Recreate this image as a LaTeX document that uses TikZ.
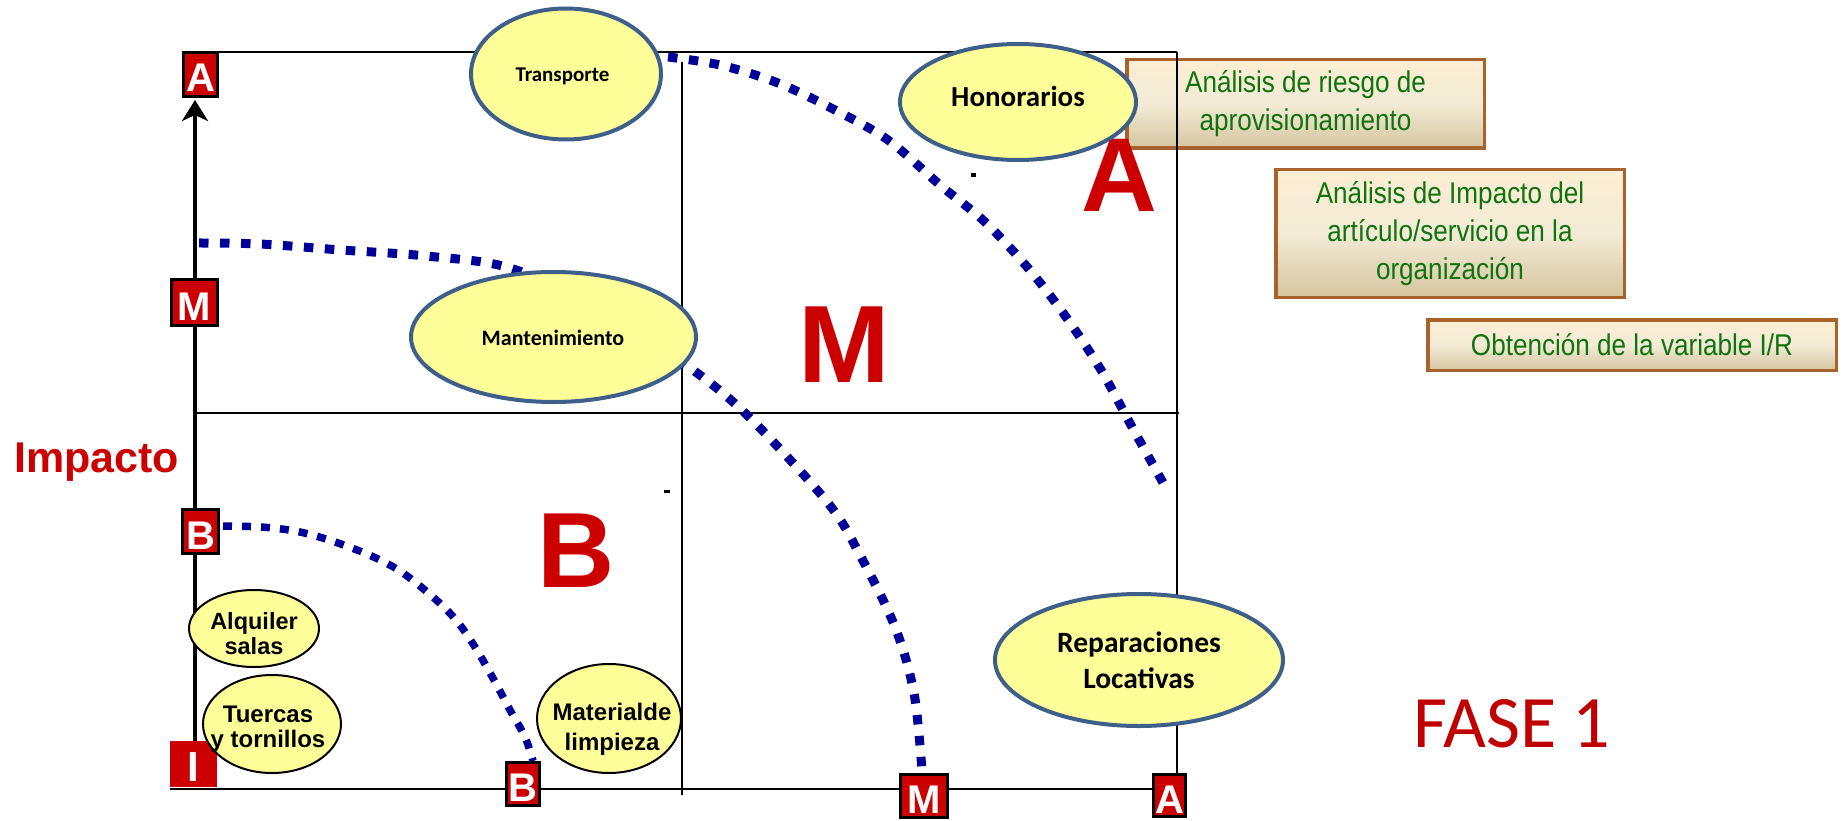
\documentclass[tikz,border=0pt]{standalone}
\usepackage{fontspec}
\usetikzlibrary{shapes.geometric,arrows.meta}
\newfontfamily\arialf{Liberation Sans}
\newfontfamily\calibf{Carlito}
\newfontfamily\narrowf{Liberation Sans}[FakeStretch=0.87]
\definecolor{redbox}{RGB}{204,0,0}
\definecolor{bigred}{RGB}{204,0,0}
\definecolor{fasered}{RGB}{192,0,0}
\definecolor{ellfill}{RGB}{255,255,153}
\definecolor{ellline}{RGB}{62,95,138}
\definecolor{navy}{RGB}{0,0,153}
\definecolor{boxline}{RGB}{168,98,45}
\definecolor{boxtop}{RGB}{252,238,210}
\definecolor{boxmid}{RGB}{243,235,214}
\definecolor{boxbot}{RGB}{213,197,160}
\definecolor{boxtext}{RGB}{15,115,15}
\begin{document}
\begin{tikzpicture}[x=1pt,y=-1pt,
  frameline/.style={line width=2pt,black},
  axisline/.style={line width=3.5pt,black},
  dotcurve/.style={line width=9pt,navy,dash pattern=on 9.5pt off 11.5pt},
  dotcurvesmall/.style={line width=7.5pt,navy,dash pattern=on 9pt off 10pt},
  bigell/.style={ellipse,draw=ellline,line width=4pt,fill=ellfill,inner sep=0pt},
  smallell/.style={ellipse,draw=black,line width=2pt,fill=ellfill,inner sep=0pt},
  calibtext/.style={font=\calibf\bfseries\fontsize{#1}{#1}\selectfont,inner sep=0pt},
  arialtext/.style={font=\arialf\bfseries\fontsize{#1}{25}\selectfont,inner sep=0pt,align=center},
  infobox/.style={draw=boxline,line width=3.5pt,top color=boxtop,bottom color=boxbot,middle color=boxmid,
    align=center,text=boxtext,font=\narrowf\fontsize{30}{38}\selectfont,inner sep=0pt},
  letterbox/.style={draw=black,line width=3pt,fill=redbox,text=white,
    font=\arialf\bfseries\fontsize{40}{40}\selectfont,inner sep=0pt,text height=35pt,text depth=0pt},
  bigletter/.style={font=\arialf\bfseries\fontsize{#1}{#1}\selectfont,text=bigred,inner sep=0pt}
]
\useasboundingbox (0,0) rectangle (1845,821);

% information boxes (behind the frame)
\node[infobox,minimum width=357.5,minimum height=88.5] (box1) at (1305.5,104) {Análisis de riesgo de\\aprovisionamiento};
\node[infobox,minimum width=348.5,minimum height=127.5] (box2) at (1450,233.5) {Análisis de Impacto del\\artículo/servicio en la\\organización};
\node[infobox,minimum width=408.5,minimum height=50.5] (box3) at (1632,345) {Obtención de la variable I/R};

% frame
\draw[frameline] (219,52) -- (1177,52);
\draw[frameline] (1177,52) -- (1177,773);
\draw[line width=2.5pt] (170,789) -- (1152,789);
\draw[frameline] (195,413) -- (1179,413);
\draw[frameline] (682,62) -- (682,795);

% vertical axis
\coordinate (axisbot) at (195,741);
\coordinate (axistop) at (195,100);
\draw[axisline,-{Stealth[length=21pt,width=26pt,inset=6pt]}] (axisbot) -- (axistop);

% small marks
\fill (664,490) rectangle (670,493);
\fill (971,173) rectangle (976,177);

% dotted boundaries
\draw[dotcurve] plot[smooth,tension=0.55] coordinates {(668,57) (720,65) (778,83) (835,110) (888,140) (940,185) (985,222) (1028,268) (1066,317) (1101,370) (1132,427) (1166,488)};
\draw[dotcurve] plot[smooth,tension=0.55] coordinates {(199,243) (260,244) (341,250) (426,256) (510,268) (598,308) (686,365) (747,415) (828,503) (861,557) (895,627) (914,693) (922,771)};
\draw[dotcurvesmall] plot[smooth,tension=0.55] coordinates {(223,526) (261,527) (295,531) (326,539) (357,550) (380,560) (403,573) (433,597) (456,620) (475,647) (494,680) (510,710) (525,737) (533,761)};

% big letters
\node[bigletter=105,anchor=base] (bigA) at (1119.5,212) {A};
\node[bigletter=110,anchor=base] (bigM) at (844,382) {M};
\node[bigletter=107,anchor=base] (bigB) at (576.5,587) {B};

% I box (under the ellipse)
\node[letterbox,draw=none,minimum width=47,minimum height=46,font=\arialf\bfseries\fontsize{42}{42}\selectfont] (boxI) at (193.5,763.5) {I};

% ellipses
\node[bigell,minimum width=190,minimum height=131] (transporte) at (566,74) {};
\node[calibtext=21,anchor=base] (transporteT) at (562.5,81.7) {Transporte};
\node[bigell,minimum width=236,minimum height=116] (honorarios) at (1018,102) {};
\node[calibtext=29,anchor=base] (honorariosT) at (1018,106.7) {Honorarios};
\node[bigell,minimum width=285,minimum height=130] (mantenimiento) at (553.5,337) {};
\node[calibtext=22,anchor=base] (mantenimientoT) at (553,345) {Mantenimiento};
\node[bigell,minimum width=288,minimum height=132] (reparaciones) at (1139,660) {};
\node[font=\calibf\bfseries\fontsize{29.5}{36}\selectfont,inner sep=0pt,align=center] (reparacionesT) at (1139,660.7) {Reparaciones\\Locativas};
\node[smallell,minimum width=130,minimum height=77] (alquiler) at (254,628.5) {};
\node[arialtext=23.5] (alquilerT) at (254,634) {Alquiler\\salas};
\node[smallell,minimum width=138,minimum height=98] (tuercas) at (272,724) {};
\node[arialtext=24] (tuercasT) at (268,729.4) {Tuercas\\y tornillos};
\node[smallell,minimum width=144,minimum height=109] (material) at (609,718.5) {};
\node[font=\arialf\bfseries\fontsize{24}{30}\selectfont,inner sep=0pt,align=center] (materialT) at (612,729) {Materialde\\limpieza};

% axis letter boxes
\node[letterbox,minimum width=34,minimum height=44] (boxAt) at (200.5,74.5) {A};
\node[letterbox,minimum width=46,minimum height=46] (boxMl) at (194.5,302.5) {M};
\node[letterbox,minimum width=36,minimum height=44] (boxBl) at (200.5,531.5) {B};
\node[letterbox,minimum width=33,minimum height=43] (boxBb) at (523,784) {B};
\node[letterbox,minimum width=47,minimum height=43] (boxMb) at (924,796) {M};
\node[letterbox,minimum width=32,minimum height=42] (boxAb) at (1169.5,795.5) {A};

% labels
\node[font=\arialf\bfseries\fontsize{43}{43}\selectfont,text=bigred,inner sep=0pt,anchor=base] (impacto) at (96.5,472) {Impacto};
\node[font=\calibf\fontsize{74}{74}\selectfont,text=fasered,inner sep=0pt,anchor=base] (fase) at (1512,747.7) {FASE 1};
\end{tikzpicture}
\end{document}
